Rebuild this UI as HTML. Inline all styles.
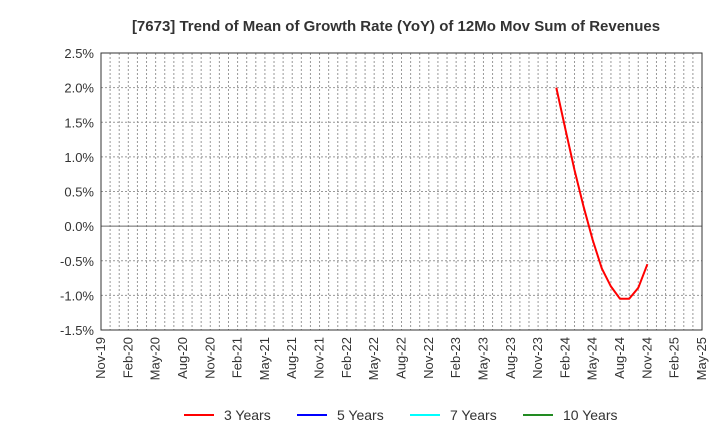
<!DOCTYPE html>
<html><head><meta charset="utf-8"><style>
body{margin:0;background:#fff;font-family:"Liberation Sans",sans-serif}
svg{display:block}
</style></head><body>
<svg id="c" width="720" height="440" xmlns="http://www.w3.org/2000/svg">
<text x="396" y="31" text-anchor="middle" font-size="15" font-weight="bold" fill="#333">[7673]  Trend of Mean of Growth Rate (YoY) of 12Mo Mov Sum of Revenues</text>
<g id="grid"></g><g id="axes"></g><g id="series"></g>
<g font-size="14" fill="#333">
<g><line x1="184" x2="214" y1="415" y2="415" stroke="#f00" stroke-width="2"/><text x="224" y="420">3 Years</text></g>
<g><line x1="297" x2="327" y1="415" y2="415" stroke="#00f" stroke-width="2"/><text x="337" y="420">5 Years</text></g>
<g><line x1="410" x2="440" y1="415" y2="415" stroke="#0ff" stroke-width="2"/><text x="450" y="420">7 Years</text></g>
<g><line x1="523" x2="553" y1="415" y2="415" stroke="#228b22" stroke-width="2"/><text x="563" y="420">10 Years</text></g>
</g>
</svg>
<script>
const xTickLabels=["Nov-19","Feb-20","May-20","Aug-20","Nov-20","Feb-21","May-21","Aug-21","Nov-21","Feb-22","May-22","Aug-22","Nov-22","Feb-23","May-23","Aug-23","Nov-23","Feb-24","May-24","Aug-24","Nov-24","Feb-25","May-25"];
const yTicks=[2.5,2.0,1.5,1.0,0.5,0.0,-0.5,-1.0,-1.5];
const series3yStart=50; // months after Nov-19 (Jan-24)
const series3y=[2.0,1.40,0.81,0.28,-0.20,-0.61,-0.87,-1.05,-1.05,-0.89,-0.55];
const L=101,R=702,T=53,B=330,N=66,yMin=-1.5,yMax=2.5;
const NS="http://www.w3.org/2000/svg";
const xs=m=>L+(R-L)*m/N, ys=v=>B-(B-T)*(v-yMin)/(yMax-yMin);
function mk(t,a,p){const e=document.createElementNS(NS,t);for(const k in a)e.setAttribute(k,a[k]);p.appendChild(e);return e;}
const grid=document.getElementById('grid'),axes=document.getElementById('axes'),ser=document.getElementById('series');
for(let m=1;m<N;m++){const l=mk('line',{x1:xs(m),x2:xs(m),y1:T,y2:B,stroke:'#999','stroke-width':1,'stroke-dasharray':'2,2'},grid);

}
yTicks.forEach(v=>{const y=ys(v);
if(v!==0&&v!==2.5&&v!==-1.5){const l=mk('line',{x1:L,x2:R,y1:y,y2:y,stroke:'#999','stroke-dasharray':'2,2'},grid);

}
const t=mk('text',{x:L-7,y:y+5,'text-anchor':'end','font-size':13,fill:'#333'},axes);t.textContent=v.toFixed(1)+'%';

});
const z=mk('line',{x1:L,x2:R,y1:ys(0),y2:ys(0),stroke:'#666'},axes);


const fr=mk('rect',{x:L,y:T,width:R-L,height:B-T,fill:'none',stroke:'#333'},axes);


xTickLabels.forEach((s,i)=>{const x=xs(i*3);const t=mk('text',{transform:`translate(${x+4},${B+7}) rotate(-90)`,'text-anchor':'end','font-size':13,fill:'#333'},axes);t.textContent=s;

});
const pts=series3y.map((v,i)=>xs(series3yStart+i).toFixed(1)+','+ys(v).toFixed(1)).join(' ');
const pl=mk('polyline',{points:pts,fill:'none',stroke:'#f00','stroke-width':2,'stroke-linejoin':'round'},ser);


</script>
</body></html>
